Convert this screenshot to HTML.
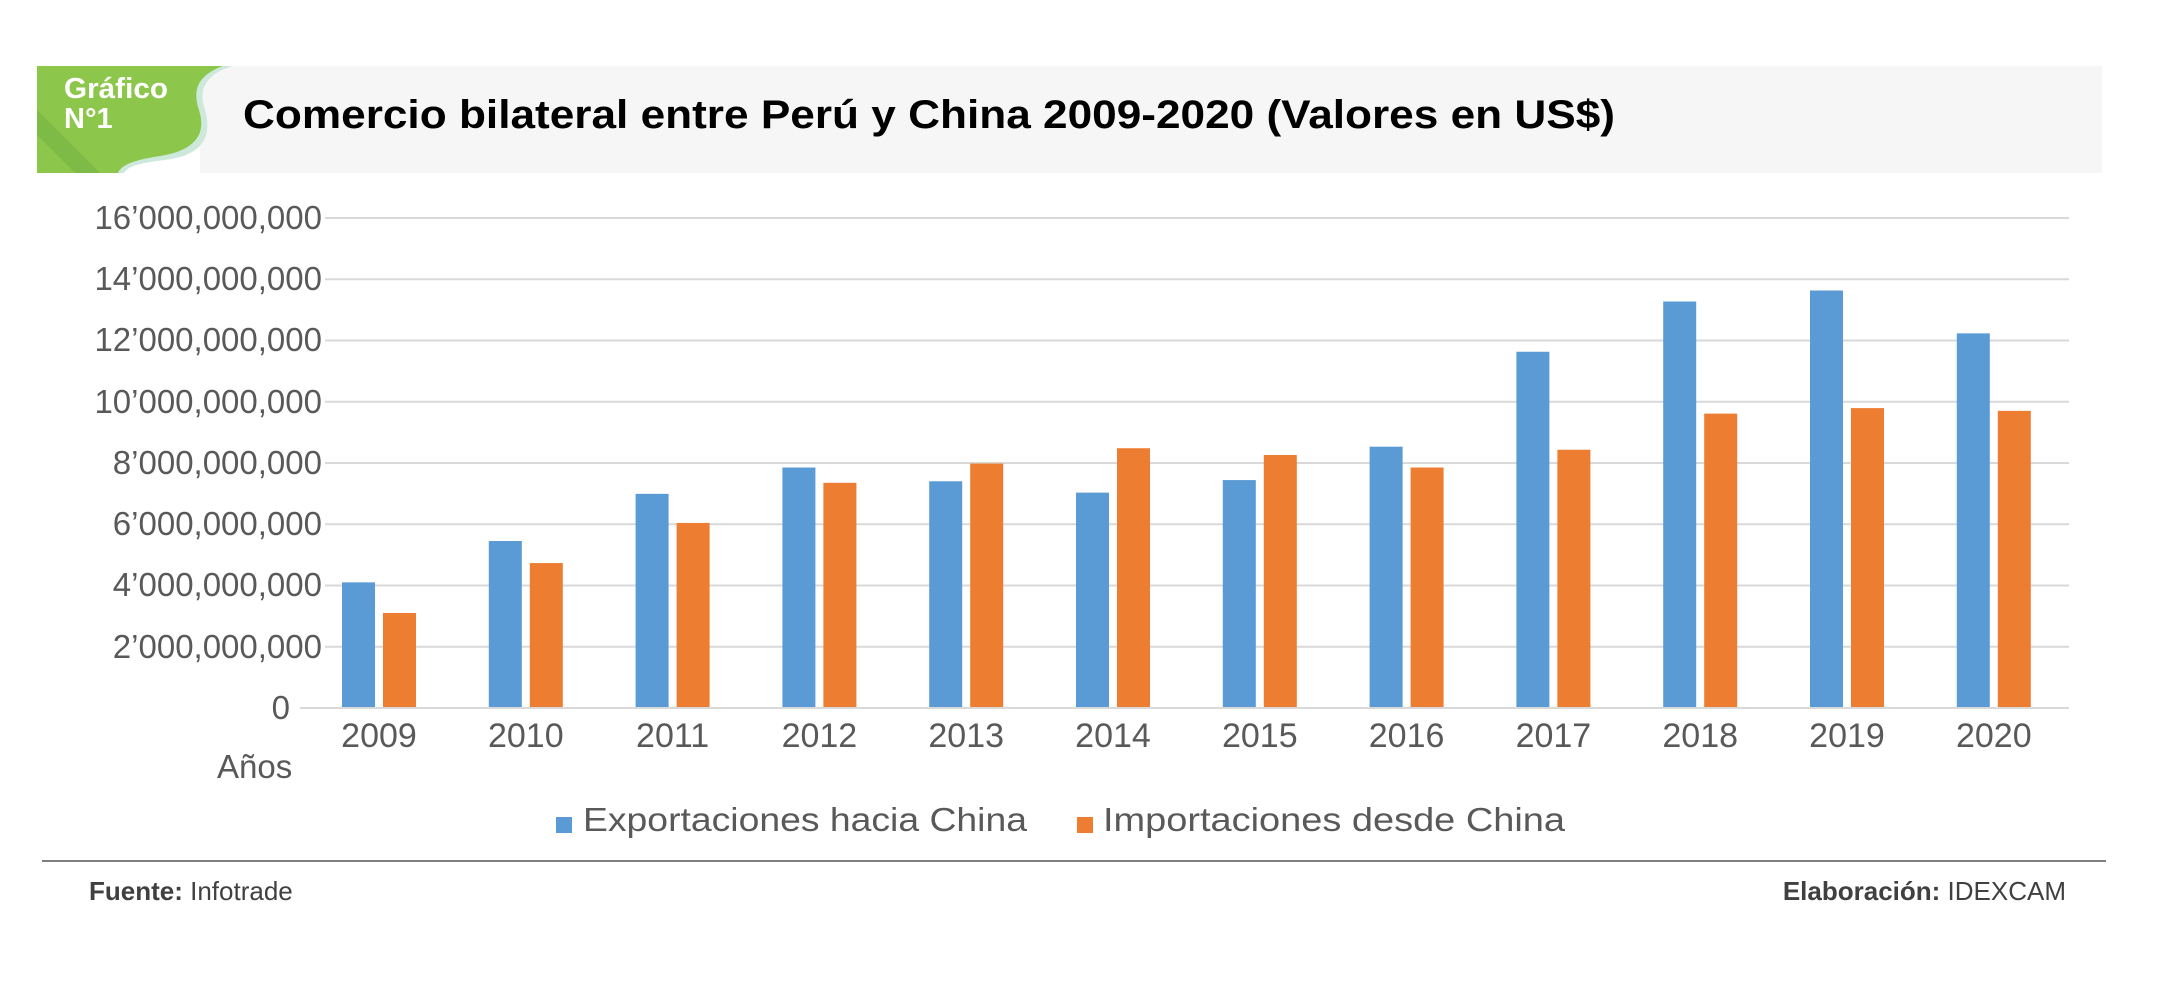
<!DOCTYPE html>
<html><head><meta charset="utf-8"><style>
html,body{margin:0;padding:0;background:#fff;}
svg{display:block;}
text{font-family:"Liberation Sans",sans-serif;}
</style></head><body>
<svg width="2167" height="1003" viewBox="0 0 2167 1003" xmlns="http://www.w3.org/2000/svg">
<rect x="200" y="66" width="1902" height="107" fill="#f6f6f6"/>
<path d="M37 66 H232 C205 75 198 90 205 110 C212 135 205 155 165 160 C140 163 128 166 124 173 H37 Z" fill="#cde9dc"/>
<path d="M37 66 H223 C198 75 192 90 199 110 C206 132 198 150 160 156 C135 160 122 164 118 173 H37 Z" fill="#8cc74b"/>
<path d="M37 110 L100 173 H75 L37 135 Z" fill="#7ab845" opacity="0.8"/>
<text x="64" y="98" font-size="29" font-weight="bold" fill="#fff" textLength="104" lengthAdjust="spacingAndGlyphs">Gráfico</text>
<text x="64" y="128" font-size="29" font-weight="bold" fill="#fff">N°1</text>
<text x="243" y="128" font-size="40" font-weight="bold" fill="#000" textLength="1372" lengthAdjust="spacingAndGlyphs">Comercio bilateral entre Perú y China 2009-2020 (Valores en US$)</text>
<g stroke="#d9d9d9" stroke-width="2">
<line x1="325" y1="218" x2="2069" y2="218"/>
<line x1="325" y1="279.25" x2="2069" y2="279.25"/>
<line x1="325" y1="340.5" x2="2069" y2="340.5"/>
<line x1="325" y1="401.75" x2="2069" y2="401.75"/>
<line x1="325" y1="463" x2="2069" y2="463"/>
<line x1="325" y1="524.25" x2="2069" y2="524.25"/>
<line x1="325" y1="585.5" x2="2069" y2="585.5"/>
<line x1="325" y1="646.75" x2="2069" y2="646.75"/>
<line x1="300" y1="708" x2="2069" y2="708"/>
</g>
<g font-size="33" fill="#595959" text-anchor="end">
<text x="322" y="229">16’000,000,000</text>
<text x="322" y="290">14’000,000,000</text>
<text x="322" y="351">12’000,000,000</text>
<text x="322" y="413">10’000,000,000</text>
<text x="322" y="474">8’000,000,000</text>
<text x="322" y="535">6’000,000,000</text>
<text x="322" y="596">4’000,000,000</text>
<text x="322" y="658">2’000,000,000</text>
<text x="290" y="719">0</text>
</g>
<g id="bars"></g>
<g font-size="34" fill="#595959" text-anchor="middle" id="years"></g>
<text x="217" y="778" font-size="33" fill="#595959">Años</text>
<rect x="556" y="817" width="16" height="16" fill="#5b9bd5"/>
<text x="583" y="831" font-size="33" fill="#595959" textLength="444" lengthAdjust="spacingAndGlyphs">Exportaciones hacia China</text>
<rect x="1077" y="817" width="16" height="16" fill="#ed7d31"/>
<text x="1103" y="831" font-size="33" fill="#595959" textLength="462" lengthAdjust="spacingAndGlyphs">Importaciones desde China</text>
<line x1="42" y1="861" x2="2106" y2="861" stroke="#7f7f7f" stroke-width="2"/>
<text x="89" y="900" font-size="26" fill="#404040"><tspan font-weight="bold">Fuente:</tspan> Infotrade</text>
<text x="2066" y="900" font-size="26" fill="#404040" text-anchor="end"><tspan font-weight="bold">Elaboración:</tspan>  IDEXCAM</text>
</svg>
<script>
var ex=[4.07,5.42,6.96,7.82,7.37,7.0,7.41,8.5,11.6,13.24,13.6,12.2];
var im=[3.07,4.7,6.01,7.32,7.95,8.45,8.23,7.82,8.4,9.58,9.76,9.67];
var ns="http://www.w3.org/2000/svg",b=document.getElementById("bars"),y=document.getElementById("years");
for(var i=0;i<12;i++){var c=379+146.8*i;
[[ex[i],c-37,"#5b9bd5"],[im[i],c+4,"#ed7d31"]].forEach(function(d){var r=document.createElementNS(ns,"rect");var h=d[0]*30.625;
r.setAttribute("x",d[1]);r.setAttribute("y",707-h);r.setAttribute("width",33);r.setAttribute("height",h);r.setAttribute("fill",d[2]);b.appendChild(r);});
var t=document.createElementNS(ns,"text");t.setAttribute("x",c);t.setAttribute("y",747);t.textContent=2009+i;y.appendChild(t);}
</script>
</body></html>
